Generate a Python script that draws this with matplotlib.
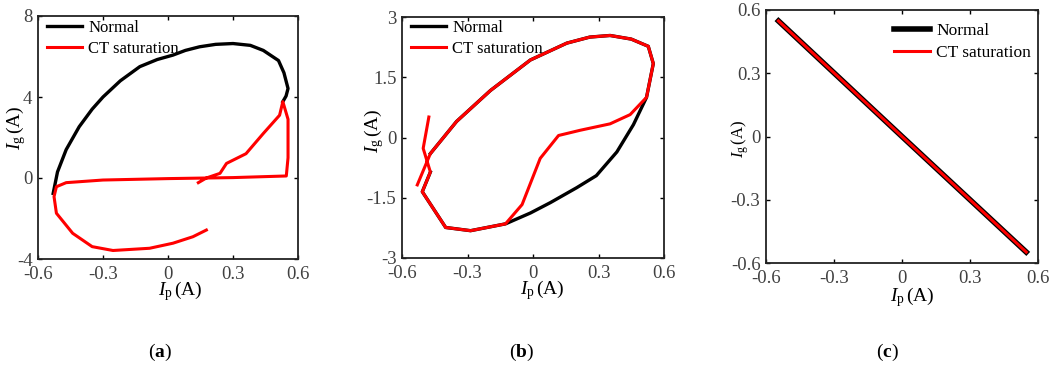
import matplotlib.pyplot as plt

plt.rcParams['font.family'] = ['Liberation Serif', 'DejaVu Serif']
plt.rcParams['mathtext.fontset'] = 'custom'
plt.rcParams['mathtext.rm'] = 'Liberation Serif'
plt.rcParams['mathtext.it'] = 'Liberation Serif:italic'
plt.rcParams['mathtext.bf'] = 'Liberation Serif:bold'

# ---- panel (a) ----
a_normal_x = [-0.53, -0.51, -0.47, -0.41, -0.35, -0.30, -0.22, -0.13, -0.05, 0.023, 0.08, 0.146, 0.22, 0.30, 0.38, 0.44, 0.51, 0.535, 0.554, 0.545, 0.53]
a_normal_y = [-0.76, 0.3, 1.4, 2.53, 3.4, 4.0, 4.8, 5.5, 5.85, 6.07, 6.3, 6.48, 6.6, 6.64, 6.55, 6.3, 5.8, 5.2, 4.42, 4.05, 3.77]
a_ct_x = [0.14, 0.177, 0.24, 0.27, 0.36, 0.44, 0.515, 0.53, 0.554, 0.554, 0.546, 0.30, 0.0, -0.3, -0.47, -0.515, -0.526, -0.515, -0.44, -0.35, -0.254, -0.085, 0.023, 0.115, 0.177]
a_ct_y = [-0.23, 0.0, 0.23, 0.72, 1.2, 2.2, 3.1, 3.77, 2.9, 1.0, 0.1, 0.02, -0.03, -0.1, -0.23, -0.43, -0.92, -1.74, -2.73, -3.39, -3.58, -3.47, -3.22, -2.9, -2.57]

# ---- panel (b) ----
b_normal_x = [-0.47, -0.35, -0.195, -0.012, 0.155, 0.26, 0.353, 0.45, 0.528, 0.551, 0.52, 0.46, 0.384, 0.29, 0.2, 0.08, -0.012, -0.126, -0.286, -0.4, -0.507, -0.47]
b_normal_y = [-0.4, 0.4, 1.17, 1.93, 2.35, 2.5, 2.54, 2.45, 2.27, 1.84, 1.0, 0.32, -0.36, -0.95, -1.25, -1.62, -1.88, -2.15, -2.32, -2.24, -1.35, -0.86]
b_ct_x = [-0.477, -0.503, -0.47, -0.507, -0.4, -0.286, -0.126, -0.05, 0.033, 0.117, 0.216, 0.353, 0.445, 0.52, 0.551, 0.528, 0.45, 0.353, 0.26, 0.155, -0.012, -0.195, -0.35, -0.47, -0.53]
b_ct_y = [0.51, -0.27, -0.86, -1.35, -2.24, -2.32, -2.15, -1.67, -0.52, 0.05, 0.18, 0.34, 0.57, 1.0, 1.84, 2.27, 2.45, 2.54, 2.5, 2.35, 1.93, 1.17, 0.4, -0.4, -1.18]

# ---- panel (c) ----
c_normal_x = [-0.545, 0.0, 0.548]
c_normal_y = [0.548, 0.0, -0.548]
c_ct_x = [-0.545, 0.0, 0.548]
c_ct_y = [0.548, 0.0, -0.548]

xticks = [-0.6, -0.3, 0, 0.3, 0.6]
xtick_labels = ['-0.6', '-0.3', '0', '0.3', '0.6']

W, H = 1054, 368

panels = [
    dict(rect=[38/W, 1-259/H, 260/W, 243/H], nx=a_normal_x, ny=a_normal_y, cx=a_ct_x, cy=a_ct_y,
         ylim=(-4, 8), yticks=[-4, 0, 4, 8], ylabels=['-4', '0', '4', '8'],
         leg=dict(loc='upper left', bbox_to_anchor=(0.01, 1.01)), legsize=12, cap='a', capx=160,
         lw_n=2.4, lw_c=2.2, xl=(0.546, -0.13), yl=(-0.085, 0.54), lsize=14),
    dict(rect=[402/W, 1-258/H, 262/W, 241/H], nx=b_normal_x, ny=b_normal_y, cx=b_ct_x, cy=b_ct_y,
         ylim=(-3, 3), yticks=[-3, -1.5, 0, 1.5, 3], ylabels=['-3', '-1.5', '0', '1.5', '3'],
         leg=dict(loc='upper left', bbox_to_anchor=(0.01, 1.015)), legsize=12, cap='b', capx=522,
         lw_n=2.4, lw_c=2.2, xl=(0.534, -0.133), yl=(-0.105, 0.53), lsize=14),
    dict(rect=[766/W, 1-263/H, 272/W, 253/H], nx=c_normal_x, ny=c_normal_y, cx=c_ct_x, cy=c_ct_y,
         ylim=(-0.6, 0.6), yticks=[-0.6, -0.3, 0, 0.3, 0.6], ylabels=['-0.6', '-0.3', '0', '0.3', '0.6'],
         leg=dict(loc='upper right', bbox_to_anchor=(1.0, 0.975)), legsize=12.5, cap='c', capx=887,
         lw_n=4.0, lw_c=2.2, xl=(0.537, -0.135), yl=(-0.096, 0.49), lsize=12),
]

fig = plt.figure(figsize=(W / 100, H / 100), dpi=100)

for p in panels:
    ax = fig.add_axes(p['rect'])
    ax.plot(p['nx'], p['ny'], color='black', lw=p['lw_n'], label='Normal', solid_joinstyle='round')
    ax.plot(p['cx'], p['cy'], color='#ff0000', lw=p['lw_c'], label='CT saturation', solid_joinstyle='round')
    ax.set_xlim(-0.6, 0.6)
    ax.set_ylim(*p['ylim'])
    ax.set_xticks(xticks)
    ax.set_xticklabels(xtick_labels)
    ax.set_yticks(p['yticks'])
    ax.set_yticklabels(p['ylabels'])
    ax.tick_params(direction='in', top=True, right=True, length=3, width=1,
                   labelsize=13.5, labelcolor='#404040', pad=5)
    ax.tick_params(axis='y', pad=4)
    for s in ax.spines.values():
        s.set_linewidth(1.3)
        s.set_color('#222222')
    ax.set_xlabel(r'$I_{\mathrm{p}}\,$(A)', fontsize=14)
    ax.set_ylabel(r'$I_{\mathrm{g}}\,$(A)', fontsize=p['lsize'])
    ax.xaxis.set_label_coords(*p['xl'])
    ax.yaxis.set_label_coords(*p['yl'])
    ax.xaxis.label.set_va('center')
    ax.yaxis.label.set_va('center')
    ax.legend(frameon=False, fontsize=p['legsize'], handlelength=2.1, handletextpad=0.35,
              borderaxespad=0.0, labelspacing=0.3, **p['leg'])
    fig.text(p['capx'] / W, 1 - 352 / H, r'($\mathbf{' + p['cap'] + r'}$)',
             ha='center', va='center', fontsize=14)

fig.savefig('out.png', dpi=100)
